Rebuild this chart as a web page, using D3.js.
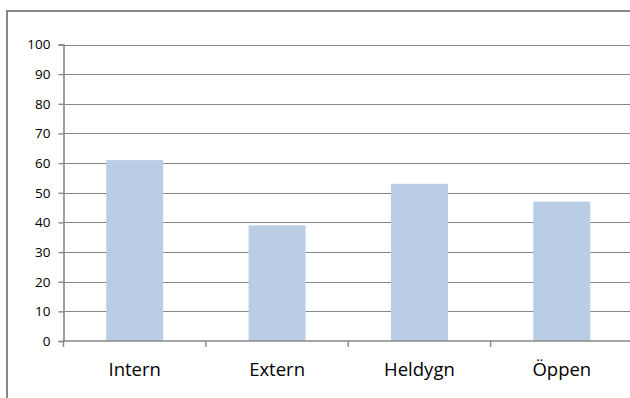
<!DOCTYPE html>
<html>
<head>
<meta charset="utf-8">
<script src="https://cdn.jsdelivr.net/npm/d3@7"></script>
<style>
  html, body { margin: 0; padding: 0; background: #fff; overflow: hidden; }
  svg { display: block; }
</style>
</head>
<body>
<svg id="chart" width="630" height="398"></svg>
<script>
// Share per unit (percent)
const categories = ["Intern", "Extern", "Heldygn", "Öppen"];
const values = [61, 39, 53, 47];
const yTicks = [0, 10, 20, 30, 40, 50, 60, 70, 80, 90, 100];

const W = 630, H = 398;
const plot = { left: 63.5, right: 633, top: 44.5, bottom: 341 };
const gridColor = "#878787";

const svg = d3.select("#chart");

// Outer chart frame (its right and bottom edges fall outside the view)
const frame = svg.append("g")
  .attr("stroke", gridColor)
  .attr("stroke-width", 2);
frame.append("line").attr("x1", 7).attr("x2", W).attr("y1", 11).attr("y2", 11);
frame.append("line").attr("x1", 7).attr("x2", 7).attr("y1", 10).attr("y2", H);

const x = d3.scaleBand()
  .domain(categories)
  .range([plot.left, plot.right])
  .paddingInner(0.6)
  .paddingOuter(0.3);

const xb = d3.scaleBand()
  .domain(categories)
  .range([plot.left, plot.right]);

const y = d3.scaleLinear()
  .domain([0, 100])
  .range([plot.bottom, plot.top]);

// Horizontal gridlines
svg.append("g")
  .selectAll("line")
  .data(yTicks.filter(d => d > 0))
  .join("line")
  .attr("x1", plot.left).attr("x2", W)
  .attr("y1", d => Math.round(y(d)) + 0.5)
  .attr("y2", d => Math.round(y(d)) + 0.5)
  .attr("stroke", gridColor)
  .attr("stroke-width", 1.2);

// Bars
svg.append("g")
  .selectAll("rect")
  .data(values)
  .join("rect")
  .attr("x", (d, i) => x(categories[i]))
  .attr("width", x.bandwidth())
  .attr("y", d => y(d))
  .attr("height", d => y(0) - y(d))
  .attr("fill", "#B9CDE5");

// Y axis
const yAxis = d3.axisLeft(y)
  .tickValues(yTicks)
  .tickSize(5)
  .tickPadding(8)
  .tickFormat(d3.format("d"));

const gy = svg.append("g")
  .attr("transform", `translate(${plot.left},0)`)
  .call(yAxis);
gy.select(".domain").attr("stroke", gridColor).attr("stroke-width", 1.6);
gy.selectAll(".tick line").attr("stroke", gridColor).attr("stroke-width", 1.4);
gy.selectAll(".tick text")
  .attr("font-family", "'Open Sans', sans-serif")
  .attr("font-size", 13.5)
  .attr("fill", "#000");

// X axis: ticks at category boundaries
svg.append("line")
  .attr("x1", plot.left).attr("x2", W)
  .attr("y1", y(0)).attr("y2", y(0))
  .attr("stroke", gridColor).attr("stroke-width", 1.6);

const boundaries = categories.map(c => xb(c));
svg.append("g")
  .selectAll("line")
  .data(boundaries)
  .join("line")
  .attr("x1", d => d).attr("x2", d => d)
  .attr("y1", y(0)).attr("y2", y(0) + 6)
  .attr("stroke", gridColor).attr("stroke-width", 1.4);

svg.append("g")
  .selectAll("text")
  .data(categories)
  .join("text")
  .attr("x", d => xb(d) + xb.bandwidth() / 2)
  .attr("y", 375.5)
  .attr("text-anchor", "middle")
  .attr("font-family", "'Open Sans', sans-serif")
  .attr("font-size", 18.5)
  .attr("fill", "#000")
  .text(d => d);
</script>
</body>
</html>
